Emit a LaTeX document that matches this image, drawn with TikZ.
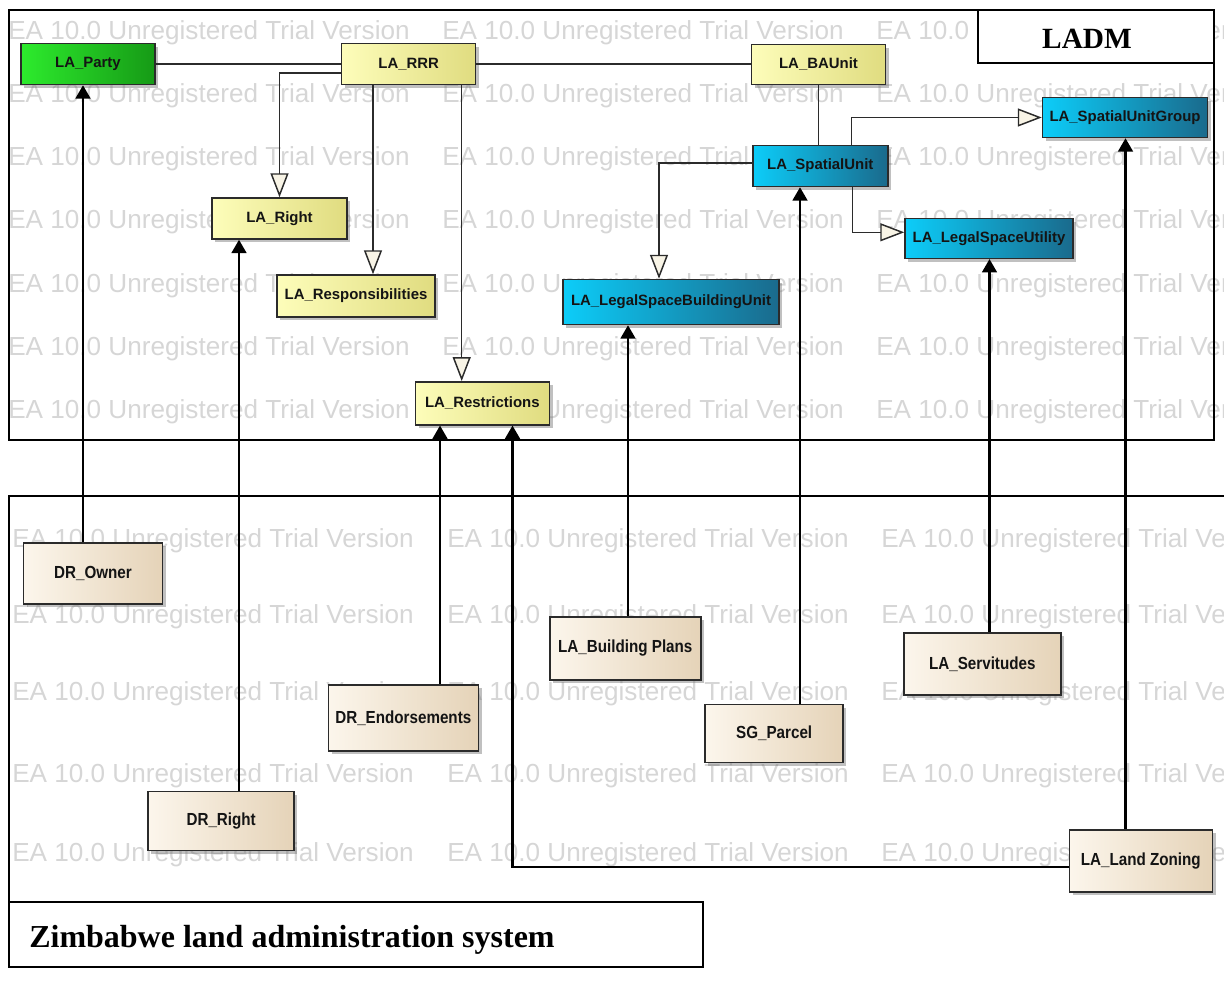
\documentclass[tikz,border=0pt]{standalone}
\usepackage{fontspec}
\setmainfont{Liberation Serif}
\newfontfamily\arialfont{Liberation Sans}
\usetikzlibrary{arrows.meta,shadows}

\definecolor{wmgray}{HTML}{D6D6D6}
\definecolor{ylwL}{HTML}{FDFDBA}
\definecolor{ylwR}{HTML}{E0DC80}
\definecolor{grnL}{HTML}{2DEB2D}
\definecolor{grnR}{HTML}{169A16}
\definecolor{bluL}{HTML}{0CCDF9}
\definecolor{bluR}{HTML}{1A6A8C}
\definecolor{bgeL}{HTML}{FCF6EC}
\definecolor{bgeR}{HTML}{E5D3B8}
\definecolor{genfill}{HTML}{F8F4E6}
\definecolor{edgecol}{HTML}{2B2B2B}

\newcommand\narrowtxt[1]{\scalebox{0.87}[1]{#1}}

\tikzset{
  cls/.style 2 args={draw=edgecol, line width=1.1pt, inner sep=0pt,
    minimum width=#1*0.75pt, minimum height=#2*0.75pt, text=black!92,
    drop shadow={shadow xshift=2.4pt, shadow yshift=-2.4pt, opacity=0.45, fill=black!55}},
  topfont/.style={font=\arialfont\bfseries\fontsize{11.2}{13}\selectfont},
  botfont/.style={font=\arialfont\bfseries\fontsize{13.1}{15}\selectfont},
  ycls/.style 2 args={cls={#1}{#2}, topfont, left color=ylwL, right color=ylwR},
  gcls/.style 2 args={cls={#1}{#2}, topfont, left color=grnL, right color=grnR},
  bcls/.style 2 args={cls={#1}{#2}, topfont, left color=bluL, right color=bluR},
  ecls/.style 2 args={cls={#1}{#2}, botfont, left color=bgeL, right color=bgeR},
  wm/.style={text=wmgray, inner sep=0pt, anchor=west,
    font=\arialfont\fontsize{19.6}{22}\selectfont},
  frame/.style={draw=black, line width=1.5pt},
  plain/.style={draw=edgecol, line width=1.1pt},
  gen/.style={draw=edgecol, line width=1.1pt,
    -{Triangle[length=18pt, width=13.5pt, fill=genfill]}},
  assoc/.style={draw=black, line width=1.9pt,
    -{Triangle[length=10pt, width=11pt]}},
  title/.style={inner sep=0pt, font=\bfseries\fontsize{#1}{#1}\selectfont}
}

\begin{document}
\begin{tikzpicture}[x=0.75pt, y=-0.75pt]
\useasboundingbox (0,0) rectangle (1224,981);

% trial-version watermark behind everything
\foreach \r in {33,96,159,222,286,349,412}
  \foreach \c in {8,442,876}
    \node[wm] at (\c,\r) {EA 10.0 Unregistered Trial Version};
\foreach \r in {541,617,694,776,855}
  \foreach \c in {12,447,881}
    \node[wm] at (\c,\r) {EA 10.0 Unregistered Trial Version};

% package frames
\draw[frame] (8.5,10) rectangle (1213.5,439.5);
\draw[frame, fill=white] (978,10) rectangle (1213.5,63.5);
\node[title=22, anchor=base] (ladm) at (1087,48.3) {LADM};
\draw[frame] (8.5,901.5) |- (1224,495.5);
\draw[frame, fill=white] (8.5,901.5) rectangle (703,966.5);
\node[title=24, anchor=base west] (zlas) at (29,947) {Zimbabwe land administration system};

% LADM classes
\node[gcls={134}{41}] (party)  at (88,64)      {LA\_Party};
\node[ycls={134}{41}] (rrr)    at (408.7,64)   {LA\_RRR};
\node[ycls={134}{40}] (baunit) at (818.5,64.5) {LA\_BAUnit};
\node[bcls={165}{40}] (sug)    at (1125,117.5) {LA\_SpatialUnitGroup};
\node[bcls={135}{41}] (su)     at (820.3,166)  {LA\_SpatialUnit};
\node[ycls={135}{41}] (laright) at (279.5,218.5) {LA\_Right};
\node[bcls={168}{40}] (lsu)    at (989,238.3)  {LA\_LegalSpaceUtility};
\node[ycls={158}{42}] (resp)   at (356,296)    {LA\_Responsibilities};
\node[bcls={216}{45}] (lsbu)   at (671,302)    {LA\_LegalSpaceBuildingUnit};
\node[ycls={134}{43}] (restr)  at (482.3,403.3) {LA\_Restrictions};

% Zimbabwe classes
\node[ecls={139}{61}] (owner)    at (93,573.7)    {\narrowtxt{DR\_Owner}};
\node[ecls={151}{63}] (bplans)   at (625.3,648.3) {\narrowtxt{LA\_Building Plans}};
\node[ecls={157}{62}] (servit)   at (982.3,664.2) {\narrowtxt{LA\_Servitudes}};
\node[ecls={150}{66}] (endors)   at (403.3,717.8) {\narrowtxt{DR\_Endorsements}};
\node[ecls={138}{58}] (sgparcel) at (774.2,733.5) {\narrowtxt{SG\_Parcel}};
\node[ecls={146}{59}] (drright)  at (221.2,821.2) {\narrowtxt{DR\_Right}};
\node[ecls={143}{62}] (zoning)   at (1140.8,860.8) {\narrowtxt{LA\_Land Zoning}};

% associations inside LADM
\draw[plain] (party) -- (rrr);
\draw[plain] (rrr.east) -- (rrr.east -| baunit.west);
\draw[plain] (baunit.south) -- (baunit.south |- su.north);

% generalizations inside LADM
\path (rrr.west) ++(0,9) coordinate (g1);
\draw[gen] (g1) -| (laright.north);
\path (rrr.south) ++(-35.7,0) coordinate (g2);
\draw[gen] (g2) -- (g2 |- resp.north);
\path (rrr.south) ++(53,0) coordinate (g3);
\draw[gen] (g3) -- (g3 |- restr.north);
\path (su.north) ++(31,0) coordinate (g4);
\draw[gen] (g4) |- (sug.west);
\path (su.south) ++(32,0) coordinate (g5);
\path (lsu.west) ++(0,-6) coordinate (g5b);
\draw[gen] (g5) |- (g5b);
\path (su.west) ++(0,-3) coordinate (g6);
\path (lsbu.north) ++(-12,0) coordinate (g6b);
\draw[gen] (g6) -| (g6b);

% mappings from the Zimbabwe classes to LADM
\path (owner.north) ++(-10,0) coordinate (a1);
\draw[assoc] (a1) -- (a1 |- party.south);
\path (drright.north) ++(17.8,0) coordinate (a2);
\draw[assoc] (a2) -- (a2 |- laright.south);
\path (endors.north) ++(36.7,0) coordinate (a3);
\draw[assoc] (a3) -- (a3 |- restr.south);
\path (zoning.west) ++(0,6) coordinate (a4);
\path (restr.south) ++(30.2,0) coordinate (a4b);
\draw[assoc] (a4) -| (a4b);
\path (bplans.north) ++(2.7,0) coordinate (a5);
\draw[assoc] (a5) -- (a5 |- lsbu.south);
\path (sgparcel.north) ++(25.8,0) coordinate (a6);
\draw[assoc] (a6) -- (a6 |- su.south);
\path (servit.north) ++(7.2,0) coordinate (a7);
\draw[assoc] (a7) -- (a7 |- lsu.south);
\path (zoning.north) ++(-15.3,0) coordinate (a8);
\draw[assoc] (a8) -- (a8 |- sug.south);
\end{tikzpicture}
\end{document}
